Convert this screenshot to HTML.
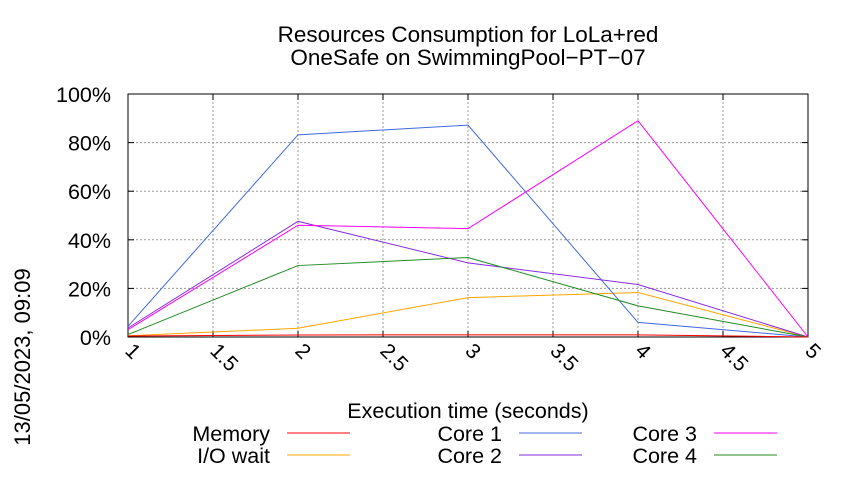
<!DOCTYPE html>
<html><head><meta charset="utf-8"><style>
body{margin:0;background:#fff;}
svg text{font-family:"Liberation Sans",sans-serif;fill:#000;}
</style></head><body>
<svg width="850" height="475" viewBox="0 0 850 475">
<g id="grid"></g>
<g id="axes"></g>
<g id="series"></g>
<text x="468" y="42" font-size="22.5" text-anchor="middle">Resources Consumption for LoLa+red</text>
<text x="468" y="65" font-size="22.5" text-anchor="middle">OneSafe on SwimmingPool−PT−07</text>
<text x="468" y="418" font-size="21.5" text-anchor="middle">Execution time (seconds)</text>
<text transform="translate(30,357) rotate(-90)" font-size="22" text-anchor="middle">13/05/2023, 09:09</text>
<g id="legend"></g>
</svg>
<script>
const xValues=[1,2,3,4,5];
const xTicks=[1,1.5,2,2.5,3,3.5,4,4.5,5];
const yTicks=[0,20,40,60,80,100];
const memory=[0.4,0.8,0.9,0.9,0];
const ioWait=[0.5,3.6,16.2,18.3,0];
const core1=[4.4,83.2,87.2,6,0];
const core2=[3.7,47.6,30.5,21.6,0];
const core3=[3,46,44.6,89,0];
const core4=[1,29.4,32.7,12.8,0];
const seriesNames=["Memory","I/O wait","Core 1","Core 2","Core 3","Core 4"];
const seriesData=[memory,ioWait,core1,core2,core3,core4];
const colors=["#ff0000","#ffa500","#4169e1","#8a2be2","#ff00ff","#228b22"];
const L=128,R=808,T=94,B=337;
const xs=v=>L+(v-1)/4*(R-L), ys=v=>B-v/100*(B-T);
const NS="http://www.w3.org/2000/svg";
function mk(tag,attrs,parent){const e=document.createElementNS(NS,tag);for(const k in attrs)e.setAttribute(k,attrs[k]);parent.appendChild(e);return e;}
const grid=document.getElementById('grid'),axes=document.getElementById('axes'),ser=document.getElementById('series'),leg=document.getElementById('legend');
xTicks.forEach(t=>{const x=xs(t);
 if(t>1&&t<5){const g=mk('line',{x1:x,y1:T,x2:x,y2:B,stroke:'#999','stroke-dasharray':'2,2','stroke-width':1},grid);}
 const tk=mk('line',{x1:x,y1:B,x2:x,y2:B-6,stroke:'#000'},axes);
 const tk2=mk('line',{x1:x,y1:T,x2:x,y2:T+6,stroke:'#000'},axes);
 const tx=mk('text',{transform:`translate(${x-4},${B+15}) rotate(45)`,'font-size':21},axes);tx.textContent=String(t);
 });
yTicks.forEach(t=>{const y=ys(t);
 if(t>0&&t<100){const g=mk('line',{x1:L,y1:y,x2:R,y2:y,stroke:'#999','stroke-dasharray':'2,2','stroke-width':1},grid);}
 const tk=mk('line',{x1:L,y1:y,x2:L+6,y2:y,stroke:'#000'},axes);
 const tk2=mk('line',{x1:R,y1:y,x2:R-6,y2:y,stroke:'#000'},axes);
 const tx=mk('text',{x:L-17,y:y+8,'font-size':21.5,'text-anchor':'end'},axes);tx.textContent=t+'%';
 });
const fr=mk('rect',{x:L,y:T,width:R-L,height:B-T,fill:'none',stroke:'#000','stroke-width':1},axes);

const order=[1,2,3,4,5,0];
order.forEach(i=>{const pts=seriesData[i].map((v,j)=>xs(xValues[j])+','+ys(v)).join(' ');
 const p=mk('polyline',{points:pts,fill:'none',stroke:colors[i],'stroke-width':1},ser);
 
 });
const legPos=[[270,433],[270,455],[502,433],[502,455],[697,433],[697,455]];
seriesNames.forEach((n,i)=>{const [tx,ty]=legPos[i];
 const t=mk('text',{x:tx,y:ty+8,'font-size':21.5,'text-anchor':'end'},leg);t.textContent=n;
 
 const l=mk('line',{x1:tx+17,y1:ty,x2:tx+80,y2:ty,stroke:colors[i],'stroke-width':1},leg);
 });
</script>
</body></html>
